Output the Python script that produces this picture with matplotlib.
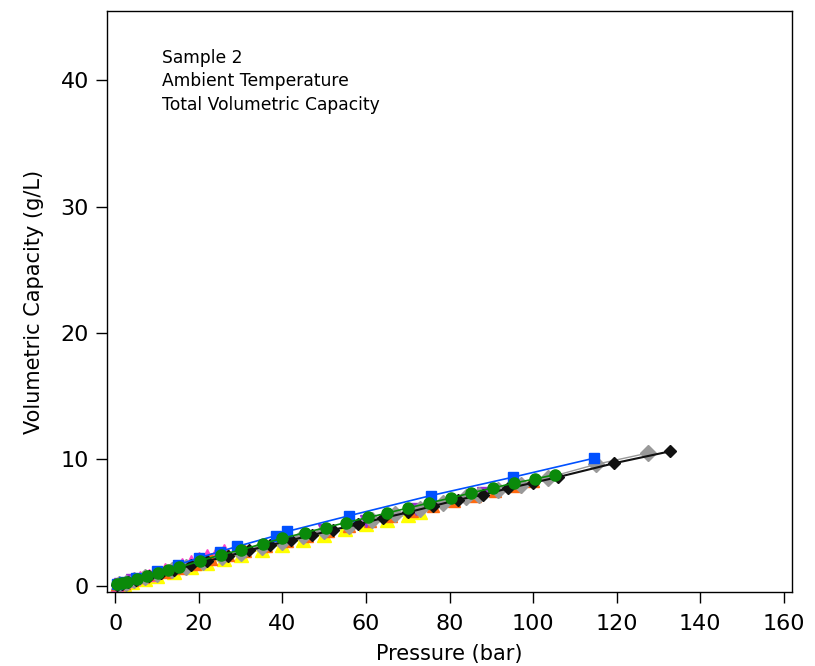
import numpy as np
import matplotlib
matplotlib.use('Agg')
from matplotlib import pyplot as plt

# yellow series
p_yellow = [0.5, 2, 4, 7, 10, 14, 18, 22, 26, 30, 35, 40, 45, 50, 55, 60, 65, 70, 73]
v_yellow = [-0.05, 0.1, 0.3, 0.55, 0.8, 1.1, 1.45, 1.8, 2.1, 2.45, 2.85, 3.25, 3.65, 4.05, 4.45, 4.85, 5.2, 5.6, 5.85]

# magenta series
p_magenta = [0.3, 1, 2, 3, 4.5, 6, 8, 10, 12, 14, 16, 18, 20, 22, 24, 26]
v_magenta = [0.02, 0.12, 0.24, 0.35, 0.5, 0.67, 0.88, 1.1, 1.32, 1.54, 1.75, 1.97, 2.18, 2.4, 2.6, 2.8]

# orange triangles
p_orange = [0.5, 2, 4, 6.5, 9, 12, 15.5, 19, 23, 27, 31, 36, 41, 46, 51, 56, 61, 66, 71, 76, 81, 86, 91, 96, 100]
v_orange = [0.1, 0.25, 0.42, 0.65, 0.9, 1.12, 1.4, 1.75, 2.1, 2.4, 2.75, 3.15, 3.55, 3.95, 4.35, 4.7, 5.1, 5.5, 5.9, 6.3, 6.7, 7.1, 7.5, 7.9, 8.3]

# purple
p_purple = [1, 4, 50, 60, 72, 88]
v_purple = [0.15, 0.45, 4.4, 5.15, 6.05, 7.3]

# gray diamonds
p_gray = [0.8, 2.5, 4.5, 7, 10, 13.5, 17, 21, 25.5, 30, 35, 40, 45, 50, 56, 61.5, 67, 73, 78.5, 84, 87, 91.5, 97, 103.5, 115, 127.5]
v_gray = [0.1, 0.25, 0.45, 0.7, 0.95, 1.22, 1.5, 1.85, 2.25, 2.6, 3.05, 3.45, 3.9, 4.3, 4.75, 5.2, 5.65, 6.1, 6.55, 7.0, 7.2, 7.55, 8.0, 8.55, 9.6, 10.5]

# black diamonds
p_black = [0.3, 1.5, 3, 5, 8, 11, 14, 18, 22, 27, 32, 37, 42, 47, 52, 58, 64, 70, 76, 82, 88, 94, 100, 106, 119.5, 132.7]
v_black = [0.05, 0.15, 0.3, 0.48, 0.75, 1.0, 1.25, 1.6, 1.95, 2.35, 2.8, 3.2, 3.6, 4.0, 4.4, 4.85, 5.35, 5.8, 6.3, 6.8, 7.2, 7.7, 8.15, 8.6, 9.7, 10.63]

# blue squares
p_blue = [0.5, 2, 5, 10, 15, 20, 25, 29.2, 38.4, 41.2, 56, 75.5, 95.3, 114.7]
v_blue = [0.1, 0.3, 0.6, 1.15, 1.65, 2.2, 2.7, 3.11, 3.96, 4.3, 5.54, 7.13, 8.6, 10.1]

# green circles
p_green = [0.4, 1.6, 2.8, 5.2, 7.6, 10.1, 12.6, 15.3, 20.2, 25.3, 30.1, 35.3, 40.0, 45.4, 50.4,
           55.2, 60.6, 65.0, 70.1, 75.1, 80.3, 85.1, 90.5, 95.5, 100.5, 105.3]
v_green = [0.16, 0.21, 0.29, 0.53, 0.79, 1.0, 1.27, 1.45, 1.95, 2.45, 2.83, 3.33, 3.75, 4.2, 4.6,
           5.0, 5.4, 5.75, 6.15, 6.55, 6.94, 7.34, 7.74, 8.13, 8.45, 8.79]

fig = plt.figure(figsize=(8.15, 6.66), dpi=100)
ax = fig.add_axes([107/815, (666-592)/666, (792-107)/815, (592-11)/666])

ax.plot(p_yellow, v_yellow, '-^', color='#FFFF00', ms=10, lw=1)
ax.plot(p_magenta, v_magenta, '-^', color='#FF44CC', ms=9, lw=1)
ax.plot(p_orange, v_orange, '-^', color='#FF6A10', ms=8, lw=1)
ax.plot(p_purple, v_purple, 'v', color='#9B30D0', ms=8)
ax.plot(p_gray, v_gray, '-D', color='#999999', ms=8, lw=1)
ax.plot(p_black, v_black, '-D', color='#111111', ms=6, lw=1.5)
ax.plot(p_blue, v_blue, '-s', color='#0050FF', ms=7, lw=1.2)
ax.plot(p_green, v_green, '-o', color='#0A8A0A', ms=8, lw=1.2)

ax.set_xlim(-2, 162)
ax.set_ylim(-0.5, 45.5)
ax.set_xticks(np.arange(0, 161, 20))
ax.set_yticks([0, 10, 20, 30, 40])
ax.tick_params(direction='out', length=8, width=1, labelsize=16)
ax.tick_params(axis='x', pad=8)
ax.tick_params(axis='y', pad=5)
for s in ax.spines.values():
    s.set_linewidth(1)

ax.set_xlabel('Pressure (bar)', fontsize=15, labelpad=7)
ax.set_ylabel('Volumetric Capacity (g/L)', fontsize=15, labelpad=12)

ax.text(0.08, 0.935, 'Sample 2\nAmbient Temperature\nTotal Volumetric Capacity',
        transform=ax.transAxes, fontsize=12.3, va='top', ha='left', linespacing=1.4)

fig.savefig('out.png', dpi=100)
